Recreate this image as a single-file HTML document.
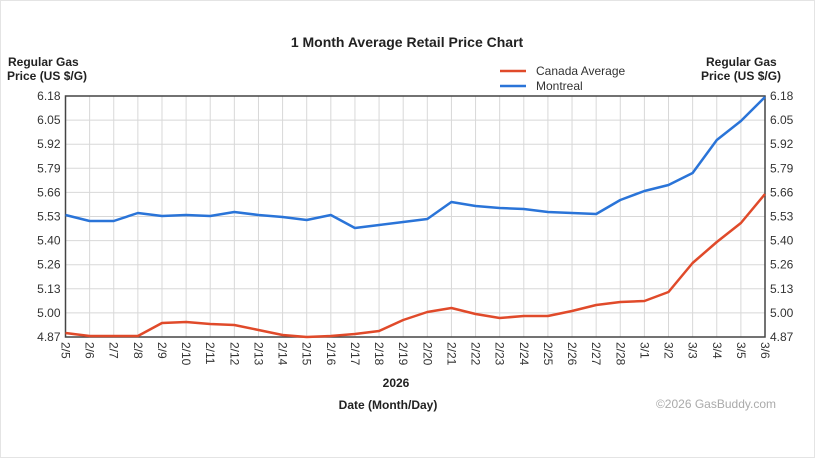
<!DOCTYPE html>
<html><head><meta charset="utf-8"><style>
html,body{margin:0;padding:0;background:#fff;}
body{width:815px;height:458px;overflow:hidden;font-family:"Liberation Sans",Arial,sans-serif;}
</style></head><body>
<svg width="815" height="458" xmlns="http://www.w3.org/2000/svg" font-family="Liberation Sans, Arial, sans-serif">
<rect x="0.5" y="0.5" width="814" height="457" fill="#fff" stroke="#e4e4e4"/>
<text x="407" y="47" text-anchor="middle" font-size="14" font-weight="bold" fill="#222">1 Month Average Retail Price Chart</text>
<text x="8" y="66" font-size="12" font-weight="bold" fill="#222">Regular Gas</text>
<text x="7" y="80" font-size="12" font-weight="bold" fill="#222">Price (US $/G)</text>
<text x="706" y="66" font-size="12" font-weight="bold" fill="#222">Regular Gas</text>
<text x="701" y="80" font-size="12" font-weight="bold" fill="#222">Price (US $/G)</text>
<line x1="500" y1="71" x2="526" y2="71" stroke="#e04a2a" stroke-width="2.5"/>
<text x="536" y="75" font-size="12" fill="#333">Canada Average</text>
<line x1="500" y1="86" x2="526" y2="86" stroke="#2a74d8" stroke-width="2.5"/>
<text x="536" y="90" font-size="12" fill="#333">Montreal</text>
<g id="grid" stroke="#d8d8d8" stroke-width="1"></g>
<g id="labels" font-size="12" fill="#333"></g>
<rect x="65.5" y="96" width="699.5" height="241" fill="none" stroke="#444" stroke-width="1.5"/>
<polyline id="mtl" fill="none" stroke="#2a74d8" stroke-width="2.5" stroke-linejoin="round"/>
<polyline id="can" fill="none" stroke="#e04a2a" stroke-width="2.5" stroke-linejoin="round"/>
<text x="396" y="387" text-anchor="middle" font-size="12" font-weight="bold" fill="#222">2026</text>
<text x="388" y="409" text-anchor="middle" font-size="12" font-weight="bold" fill="#222">Date (Month/Day)</text>
<text x="776" y="408" text-anchor="end" font-size="12" fill="#aaa">©2026 GasBuddy.com</text>
</svg>
<script>
var L=65.5,R=765,T=96,B=337,n=29,dx=(R-L)/n;
var g=document.getElementById('grid'),lb=document.getElementById('labels'),ns='http://www.w3.org/2000/svg';
function el(p,t,a,txt){var e=document.createElementNS(ns,t);for(var k in a)e.setAttribute(k,a[k]);if(txt)e.textContent=txt;p.appendChild(e);return e;}
var yl=['6.18','6.05','5.92','5.79','5.66','5.53','5.40','5.26','5.13','5.00','4.87'];
for(var i=0;i<=10;i++){var y=T+i*(B-T)/10;el(g,'line',{x1:L,x2:R,y1:y,y2:y});
el(lb,'text',{x:L-5,y:y+4,'text-anchor':'end'},yl[i]);el(lb,'text',{x:R+5,y:y+4},yl[i]);}
var dates=[];for(var d=5;d<=28;d++)dates.push('2/'+d);for(var d=1;d<=6;d++)dates.push('3/'+d);
for(var i=0;i<=n;i++){var x=L+i*dx;el(g,'line',{x1:x,x2:x,y1:T,y2:B});
el(lb,'text',{x:0,y:0,transform:'translate('+(x-4)+',342) rotate(90)'},dates[i]);}
var m=[215,221,221,213,216,215,216,212,215,217,220,215,228,225,222,219,202,206,208,209,212,213,214,200,191,185,173,140,121,97];
var c=[333,336,336,336,323,322,324,325,330,335,337,336,334,331,320,312,308,314,318,316,316,311,305,302,301,292,263,242,223,194];
function pts(a){return a.map(function(v,i){return (L+i*dx).toFixed(1)+','+v}).join(' ');}
document.getElementById('mtl').setAttribute('points',pts(m));
document.getElementById('can').setAttribute('points',pts(c));
</script>
</body></html>
